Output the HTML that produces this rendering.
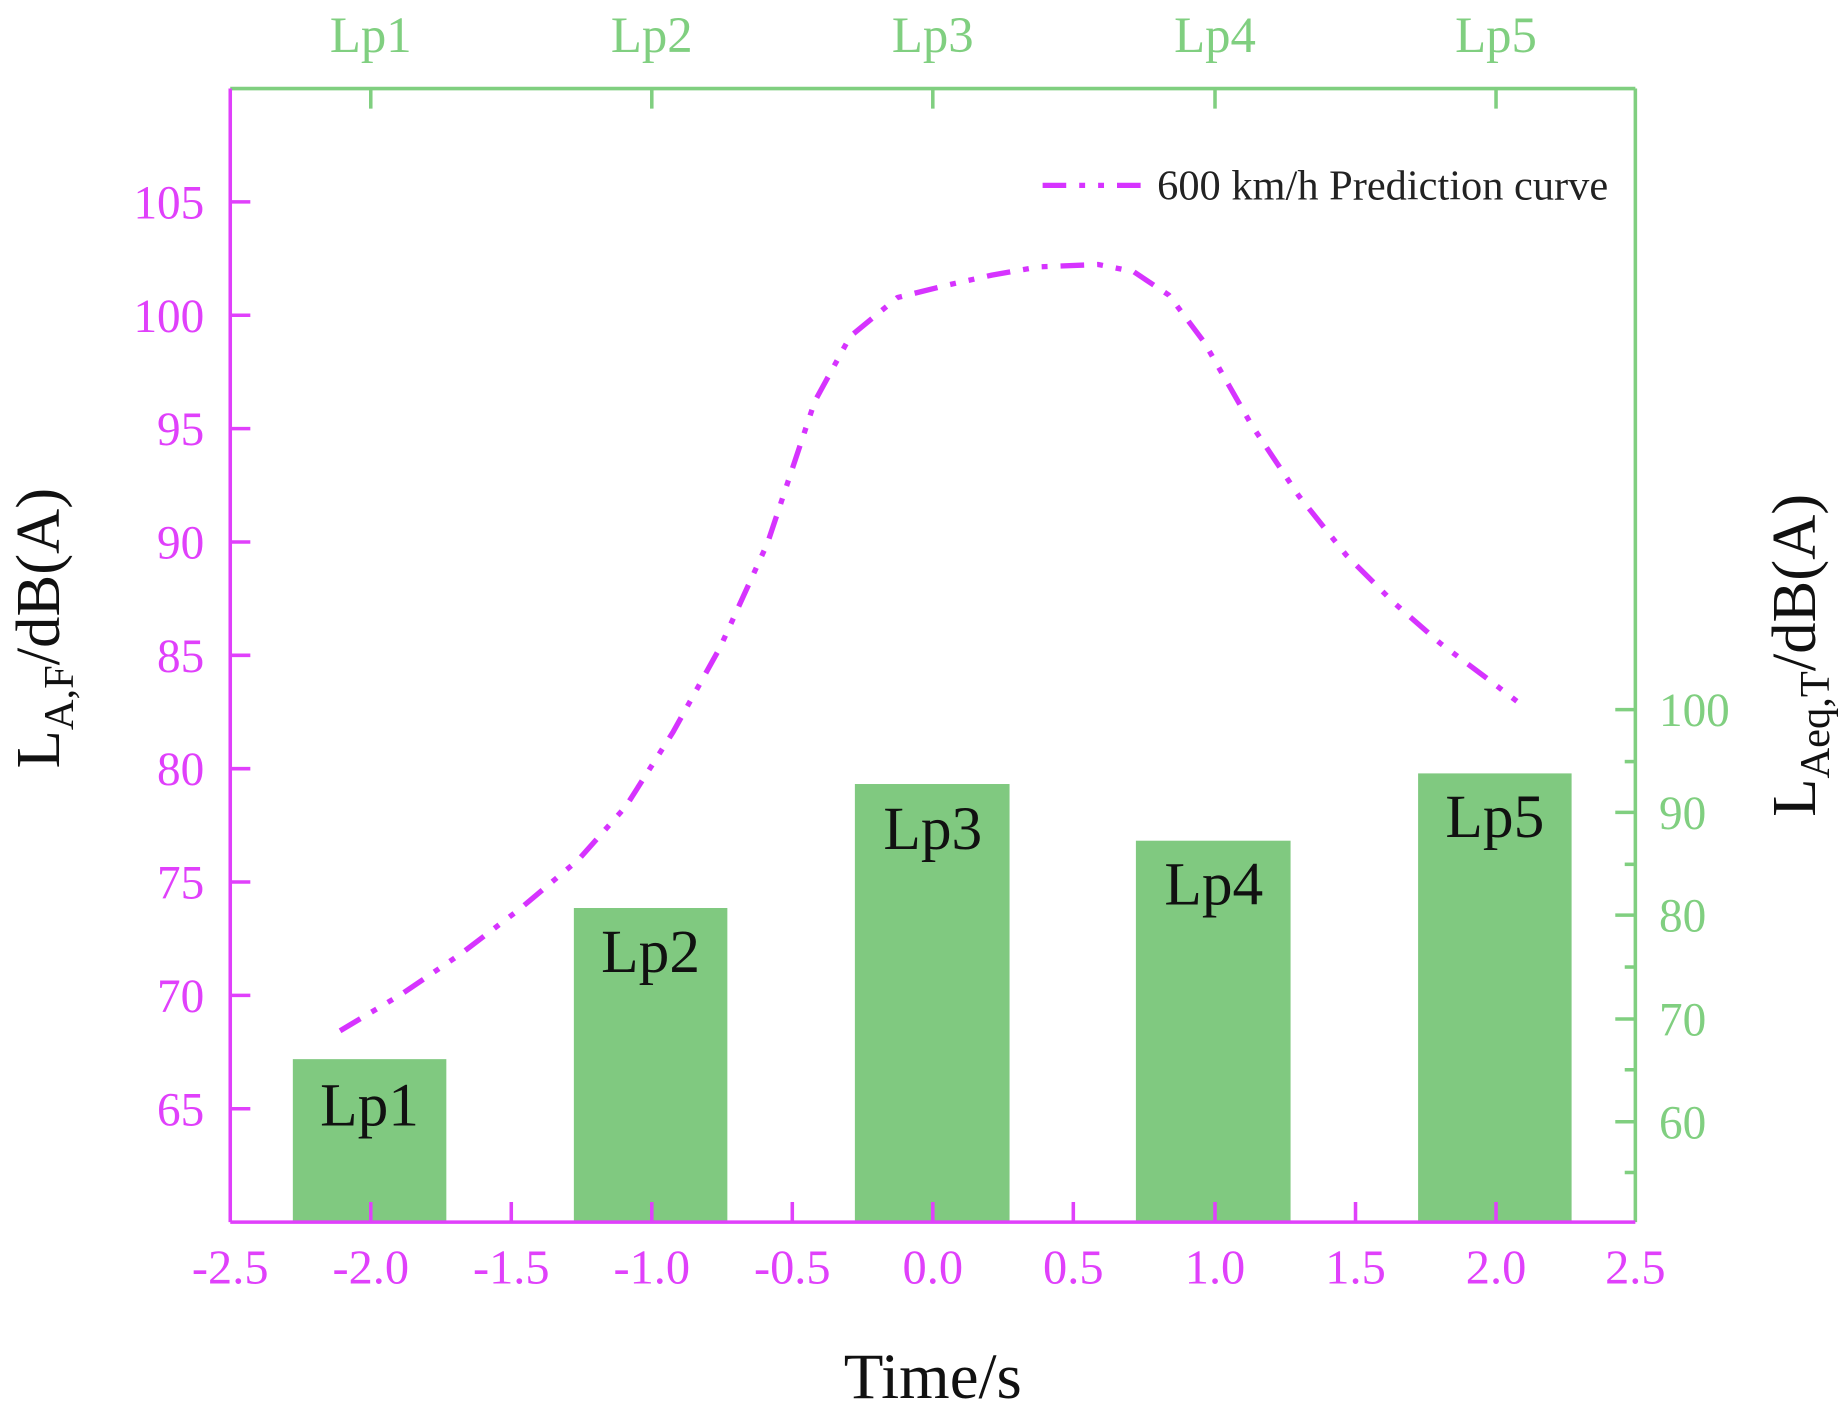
<!DOCTYPE html>
<html><head><meta charset="utf-8"><style>html,body{margin:0;padding:0;background:#fff}svg{display:block}</style></head>
<body>
<svg width="1842" height="1409" viewBox="0 0 1560 1193.3" xmlns="http://www.w3.org/2000/svg" font-family="'Liberation Serif', serif">
<g fill="#80c980">
<rect x="248" y="897" width="130" height="138"/>
<rect x="486" y="769" width="130" height="266"/>
<rect x="724" y="664" width="131" height="371"/>
<rect x="962" y="712" width="131" height="323"/>
<rect x="1201" y="655" width="130" height="380"/>
</g>
<g font-size="52" fill="#111" text-anchor="middle">
<text x="313" y="953">Lp1</text>
<text x="551" y="823">Lp2</text>
<text x="790" y="719">Lp3</text>
<text x="1028" y="766">Lp4</text>
<text x="1266" y="709">Lp5</text>
</g>
<path d="M288,873 L340,842 L390,808 L440,770 L490,728 L530,683 L570,620 L610,548 L650,460 L690,340 L720,285 L760,252 L800,242 L840,233 L880,226 L930,224 L960,230 L990,250 L1020,290 L1060,360 L1100,420 L1140,470 L1180,510 L1220,545 L1260,575 L1290,598" fill="none" stroke="#d633ff" stroke-width="4.5" stroke-dasharray="20,11,5,11,5,11" stroke-linejoin="round"/>
<line x1="883" y1="157" x2="975" y2="157" stroke="#d633ff" stroke-width="4.5" stroke-dasharray="20,11,5,11,5,11"/>
<text x="980" y="169" font-size="36" fill="#222" textLength="382" lengthAdjust="spacingAndGlyphs">600 km/h Prediction curve</text>
<line x1="195" y1="75" x2="1385" y2="75" stroke="#80cf80" stroke-width="3"/>
<line x1="1385" y1="75" x2="1385" y2="1035" stroke="#80cf80" stroke-width="3"/>
<line x1="195" y1="75" x2="195" y2="1035" stroke="#e040fb" stroke-width="3"/>
<line x1="195" y1="1035" x2="1385" y2="1035" stroke="#e040fb" stroke-width="3"/>
<g stroke="#80cf80" stroke-width="3">
<line x1="314" y1="75" x2="314" y2="92"/><line x1="552" y1="75" x2="552" y2="92"/><line x1="790" y1="75" x2="790" y2="92"/><line x1="1029" y1="75" x2="1029" y2="92"/><line x1="1267" y1="75" x2="1267" y2="92"/>
</g>
<g font-size="43" fill="#80cf80" text-anchor="middle">
<text x="314" y="44">Lp1</text><text x="552" y="44">Lp2</text><text x="790" y="44">Lp3</text><text x="1029" y="44">Lp4</text><text x="1267" y="44">Lp5</text>
</g>
<g stroke="#e040fb" stroke-width="3">
<line x1="314" y1="1035" x2="314" y2="1018"/><line x1="433" y1="1035" x2="433" y2="1018"/><line x1="552" y1="1035" x2="552" y2="1018"/><line x1="671" y1="1035" x2="671" y2="1018"/><line x1="790" y1="1035" x2="790" y2="1018"/><line x1="909" y1="1035" x2="909" y2="1018"/><line x1="1029" y1="1035" x2="1029" y2="1018"/><line x1="1148" y1="1035" x2="1148" y2="1018"/><line x1="1267" y1="1035" x2="1267" y2="1018"/>
</g>
<g font-size="41" fill="#e040fb" text-anchor="middle">
<text x="195" y="1087">-2.5</text><text x="314" y="1087">-2.0</text><text x="433" y="1087">-1.5</text><text x="552" y="1087">-1.0</text><text x="671" y="1087">-0.5</text><text x="790" y="1087">0.0</text><text x="909" y="1087">0.5</text><text x="1029" y="1087">1.0</text><text x="1148" y="1087">1.5</text><text x="1267" y="1087">2.0</text><text x="1385" y="1087">2.5</text>
</g>
<g stroke="#e040fb" stroke-width="3">
<line x1="195" y1="171" x2="212" y2="171"/><line x1="195" y1="267" x2="212" y2="267"/><line x1="195" y1="363" x2="212" y2="363"/><line x1="195" y1="459" x2="212" y2="459"/><line x1="195" y1="555" x2="212" y2="555"/><line x1="195" y1="651" x2="212" y2="651"/><line x1="195" y1="747" x2="212" y2="747"/><line x1="195" y1="843" x2="212" y2="843"/><line x1="195" y1="939" x2="212" y2="939"/>
</g>
<g font-size="40" fill="#e040fb" text-anchor="end">
<text x="173" y="185">105</text><text x="173" y="281">100</text><text x="173" y="377">95</text><text x="173" y="473">90</text><text x="173" y="569">85</text><text x="173" y="665">80</text><text x="173" y="761">75</text><text x="173" y="857">70</text><text x="173" y="953">65</text>
</g>
<g stroke="#80cf80" stroke-width="3">
<line x1="1385" y1="601" x2="1368" y2="601"/><line x1="1385" y1="645" x2="1376" y2="645"/><line x1="1385" y1="688" x2="1368" y2="688"/><line x1="1385" y1="732" x2="1376" y2="732"/><line x1="1385" y1="775" x2="1368" y2="775"/><line x1="1385" y1="819" x2="1376" y2="819"/><line x1="1385" y1="863" x2="1368" y2="863"/><line x1="1385" y1="906" x2="1376" y2="906"/><line x1="1385" y1="950" x2="1368" y2="950"/><line x1="1385" y1="993" x2="1376" y2="993"/>
</g>
<g font-size="40" fill="#80cf80">
<text x="1405" y="615">100</text><text x="1405" y="702">90</text><text x="1405" y="789">80</text><text x="1405" y="877">70</text><text x="1405" y="964">60</text>
</g>
<text x="790" y="1184" font-size="55" fill="#111" text-anchor="middle">Time/s</text>
<text transform="translate(50,532) rotate(-90)" font-size="53" fill="#111" text-anchor="middle">L<tspan font-size="36" dy="12">A,F</tspan><tspan dy="-12">/dB(A)</tspan></text>
<text transform="translate(1537,555) rotate(-90)" font-size="53" fill="#111" text-anchor="middle">L<tspan font-size="36" dy="12">Aeq,T</tspan><tspan dy="-12">/dB(A)</tspan></text>
</svg>
</body></html>
